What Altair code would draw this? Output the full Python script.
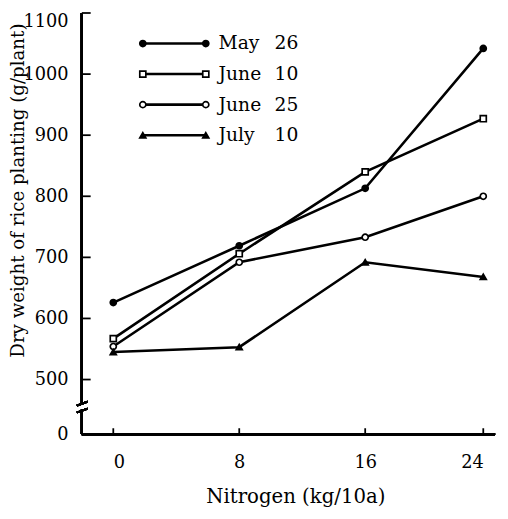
import altair as alt
import pandas as pd

# ---- data ----
nitrogen = [0, 8, 16, 24]
series_names = ["May 26", "June 10", "June 25", "July 10"]
series_month = ["May", "June", "June", "July"]
series_day = ["26", "10", "25", "10"]
may26 = [626, 719, 813, 1042]
june10 = [567, 706, 840, 927]
june25 = [554, 692, 733, 800]
july10 = [545, 553, 692, 668]
y_tick_values = [0, 500, 600, 700, 800, 900, 1000, 1100]
x_tick_values = [0, 8, 16, 24]
legend_rows = [1050, 1000, 950, 900]  # legend rows placed in data space

values = [may26, june10, june25, july10]
rows = []
for name, vals in zip(series_names, values):
    for n, v in zip(nitrogen, vals):
        rows.append({"series": name, "nitrogen": n, "weight": v})
df = pd.DataFrame(rows)

leg = pd.DataFrame({
    "series": series_names,
    "month": series_month,
    "day": series_day,
    "ly": legend_rows,
})

W, H = 420, 428
FONT = "DejaVu Serif"

xscale = alt.Scale(domain=[0, 8, 16, 24], range=[32, 160, 288, 408], nice=False, zero=False)
yscale = alt.Scale(domain=[0, 500, 1100], range=[H, 372.5, 0], nice=False, zero=False)

shape_scale = alt.Scale(domain=series_names, range=["circle", "square", "circle", "triangle-up"])
fill_scale = alt.Scale(domain=series_names, range=["black", "white", "white", "black"])

x_enc = alt.X("nitrogen:Q", scale=xscale, axis=alt.Axis(
    values=x_tick_values, domain=False, ticks=False, tickSize=0, grid=False, format="d",
    labelFont=FONT, labelFontSize=18, labelColor="black", labelPadding=20,
    title="Nitrogen  (kg/10a)", titleFont=FONT, titleFontSize=20, titleFontWeight="normal",
    titleColor="black", titleX=217, titleY=63, titleBaseline="middle", titleAnchor="middle"))
y_enc = alt.Y("weight:Q", scale=yscale, axis=alt.Axis(
    values=y_tick_values, domain=False, ticks=False, tickSize=0, grid=False, format="d",
    labelFont=FONT, labelFontSize=18, labelColor="black", labelPadding=14,
    labelBaseline=alt.condition("datum.value == 1100", alt.value("top"), alt.value("middle")),
    title="Dry weight of rice planting (g/plant)", titleFont=FONT, titleFontSize=18.5,
    titleFontWeight="normal", titleColor="black", titleX=-65, titleY=180,
    titleBaseline="middle", titleAnchor="middle"))

base = alt.Chart(df)

lines = base.mark_line(color="black", strokeWidth=2.6).encode(
    x=x_enc, y=y_enc, detail="series:N")

points = base.mark_point(filled=True, stroke="black", strokeWidth=1.7, size=38, opacity=1).encode(
    x="nitrogen:Q", y="weight:Q",
    shape=alt.Shape("series:N", scale=shape_scale, legend=None),
    fill=alt.Fill("series:N", scale=fill_scale, legend=None))

# axis lines (with a break in the y axis)
x_axis_line = alt.Chart(df).mark_rule(color="black", strokeWidth=2).encode(
    x=alt.value(0), x2=alt.value(W), y=alt.value(H))
y_axis_upper = alt.Chart(df).mark_rule(color="black", strokeWidth=2).encode(
    x=alt.value(0), y=alt.datum(270), y2=alt.datum(1100))
y_axis_lower = alt.Chart(df).mark_rule(color="black", strokeWidth=2).encode(
    x=alt.value(0), y=alt.datum(0), y2=alt.datum(225))
brk1 = alt.Chart(df).mark_rule(color="black", strokeWidth=1.8).encode(
    x=alt.value(-5), x2=alt.value(6), y=alt.value(399), y2=alt.value(395))
brk2 = alt.Chart(df).mark_rule(color="black", strokeWidth=1.8).encode(
    x=alt.value(-5), x2=alt.value(6), y=alt.value(406), y2=alt.value(402))

# inward ticks
ytick_df = pd.DataFrame({"t": y_tick_values[1:]})
y_ticks = alt.Chart(ytick_df).mark_rule(color="black", strokeWidth=1.8).encode(
    x=alt.value(0), x2=alt.value(9), y="t:Q")
xtick_df = pd.DataFrame({"t": x_tick_values})
x_ticks = alt.Chart(xtick_df).mark_rule(color="black", strokeWidth=1.8).encode(
    x="t:Q", y=alt.value(H), y2=alt.value(H - 6))

# legend
legc = alt.Chart(leg)
leg_line = legc.mark_rule(color="black", strokeWidth=2.6).encode(
    x=alt.value(62), x2=alt.value(126), y="ly:Q")
leg_pt_l = legc.mark_point(filled=True, stroke="black", strokeWidth=1.7, size=38, opacity=1).encode(
    x=alt.value(62), y="ly:Q",
    shape=alt.Shape("series:N", scale=shape_scale, legend=None),
    fill=alt.Fill("series:N", scale=fill_scale, legend=None))
leg_pt_r = legc.mark_point(filled=True, stroke="black", strokeWidth=1.7, size=38, opacity=1).encode(
    x=alt.value(126), y="ly:Q",
    shape=alt.Shape("series:N", scale=shape_scale, legend=None),
    fill=alt.Fill("series:N", scale=fill_scale, legend=None))
leg_month = legc.mark_text(align="left", baseline="middle", font=FONT, fontSize=19, color="black").encode(
    x=alt.value(139), y="ly:Q", text="month:N")
leg_day = legc.mark_text(align="right", baseline="middle", font=FONT, fontSize=19, color="black").encode(
    x=alt.value(220), y="ly:Q", text="day:N")

chart = alt.layer(
    lines, points, x_axis_line, y_axis_upper, y_axis_lower, brk1, brk2,
    y_ticks, x_ticks, leg_line, leg_pt_l, leg_pt_r, leg_month, leg_day
).properties(
    width=W, height=H,
    autosize=alt.AutoSizeParams(type="none"),
    padding={"left": 75, "top": 1, "right": 5, "bottom": 73},
    background="white",
).configure_view(strokeWidth=0)

chart.save("out.html", embed_options={"renderer": "svg", "actions": False})
